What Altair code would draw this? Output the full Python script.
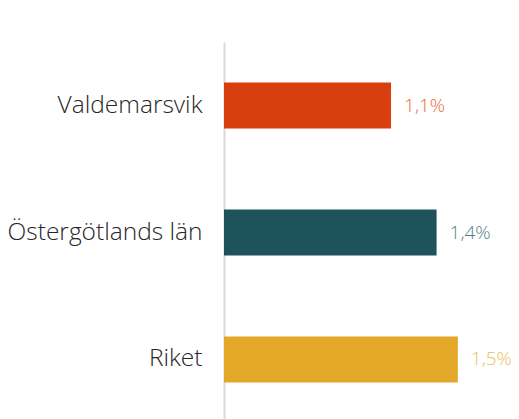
import altair as alt
import pandas as pd

categories = ["Valdemarsvik", "Östergötlands län", "Riket"]
values = [1.1, 1.4, 1.54]
labels = ["1,1%", "1,4%", "1,5%"]
bar_colors = ["#D73F0F", "#1F535C", "#E3A827"]
text_colors = ["#EA6A3E", "#52838A", "#ECBE5E"]

df = pd.DataFrame({
    "kat": categories,
    "varde": values,
    "etikett": labels,
    "farg": bar_colors,
    "tfarg": text_colors,
})

y = alt.Y("kat:N", sort=categories, title=None,
          scale=alt.Scale(paddingInner=0.638, paddingOuter=0.32),
          axis=alt.Axis(ticks=False, labelPadding=22, labelFontSize=24.5,
                        labelFont="Open Sans", labelFontWeight=300,
                        labelColor="#262626", domainColor="#D9D9D9",
                        domainWidth=2, labelLimit=300))
x = alt.X("varde:Q", title=None, scale=alt.Scale(domain=[0, 1.89], nice=False),
          axis=None)

bars = alt.Chart(df).mark_bar().encode(
    x=x, y=y, color=alt.Color("farg:N", scale=None))

text = alt.Chart(df).mark_text(align="left", baseline="middle", dx=13,
                               fontSize=19, font="Open Sans", fontWeight=300).encode(
    x=x, y=alt.Y("kat:N", sort=categories), text="etikett:N",
    color=alt.Color("tfarg:N", scale=None))

chart = (bars + text).properties(
    width=287, height=381,
    autosize=alt.AutoSizeParams(type="none"),
    padding={"left": 216, "top": 34, "right": 0, "bottom": 0},
).configure_view(stroke=None).configure_axis(grid=False)

chart.save("out.html", embed_options={"renderer": "svg", "actions": False})
